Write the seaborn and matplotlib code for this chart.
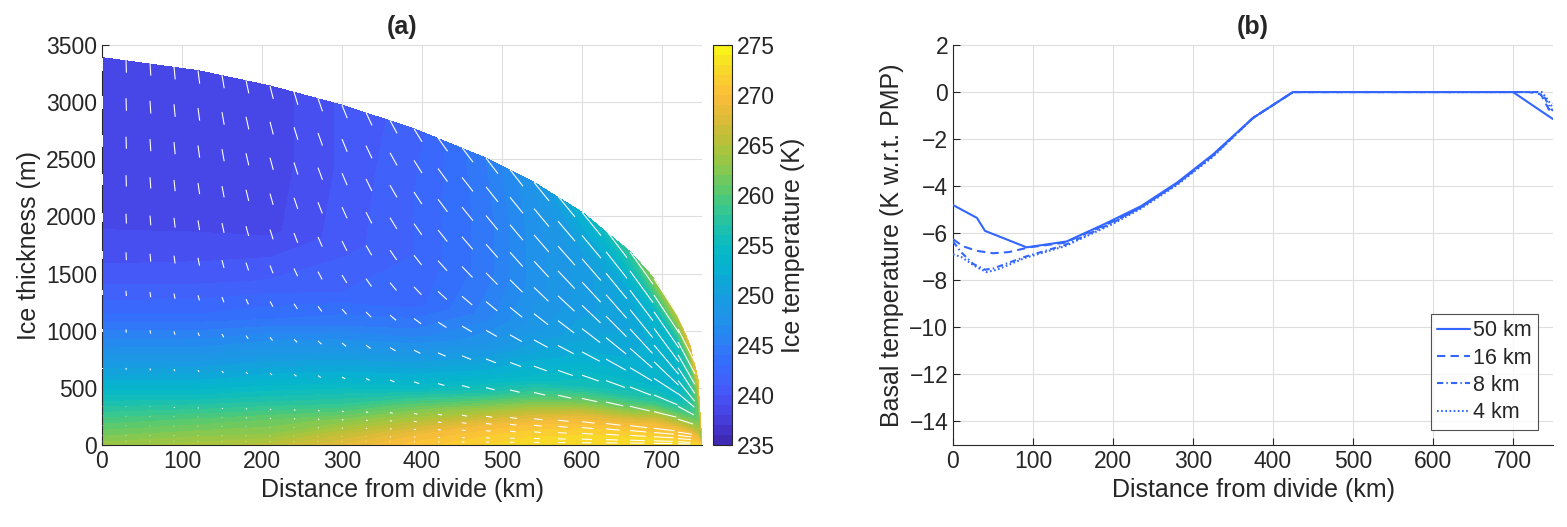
import numpy as np
import pandas as pd
import seaborn as sns
import matplotlib
matplotlib.use("Agg")
import matplotlib.pyplot as plt
from matplotlib.colors import LinearSegmentedColormap

# %% 1 ── Data ───────────────────────────────────────────────────────────────
# ice geometry (surface profile), km / m
grid_x_km = [0, 30, 60, 90, 120, 150, 180, 210, 240, 270, 300, 330, 360, 390,
             420, 450, 480, 510, 540, 570, 600, 630, 660, 690, 720, 735, 745, 750]
ice_thickness_m = [3390, 3372, 3346, 3313, 3276, 3236, 3191, 3142, 3090, 3034,
                   2974, 2910, 2841, 2767, 2688, 2602, 2510, 2409, 2298, 2176,
                   2037, 1879, 1692, 1457, 1127, 870, 576, 0]

# ice temperature (K) on columns x (km) and fractional height above bed
temp_x_km = [0, 120, 210, 300, 390, 480, 540, 600, 660, 690, 720, 735, 745, 750]
temp_sigma = [0.0, 0.03, 0.07, 0.12, 0.18, 0.25, 0.35, 0.45, 0.6, 0.8, 1.0]
T_s000 = [263.5, 264.5, 265.5, 268.0, 270.5, 272.0, 272.5, 273.0, 273.0, 273.0, 273.0, 273.0, 273.0, 273.0]
T_s003 = [261.5, 262.5, 263.0, 266.0, 269.0, 271.0, 272.0, 272.5, 272.5, 272.5, 272.0, 271.5, 271.0, 271.0]
T_s007 = [259.0, 260.0, 261.0, 262.5, 265.5, 269.0, 270.5, 271.0, 271.0, 271.0, 270.5, 270.0, 270.0, 270.0]
T_s012 = [255.5, 256.0, 257.0, 258.0, 261.0, 264.0, 266.5, 268.5, 268.5, 269.5, 269.5, 269.0, 269.0, 269.0]
T_s018 = [251.0, 251.5, 253.0, 254.0, 254.5, 257.0, 260.0, 262.0, 262.5, 265.0, 265.0, 265.5, 266.0, 266.0]
T_s025 = [247.0, 247.5, 249.0, 250.0, 250.5, 252.5, 254.5, 256.0, 257.0, 258.5, 260.0, 262.0, 264.0, 265.0]
T_s035 = [242.5, 243.0, 244.0, 245.0, 245.5, 248.0, 251.0, 253.0, 253.5, 254.0, 255.0, 258.0, 262.0, 264.0]
T_s045 = [240.2, 240.5, 241.2, 242.0, 242.5, 245.5, 248.5, 251.0, 252.0, 253.0, 254.0, 257.0, 261.0, 263.0]
T_s060 = [238.5, 238.6, 238.7, 240.5, 242.0, 244.5, 247.5, 249.5, 251.0, 252.5, 254.0, 257.0, 261.0, 263.0]
T_s080 = [238.3, 238.3, 238.4, 240.2, 242.0, 244.5, 247.5, 249.5, 252.0, 253.5, 256.0, 259.0, 263.0, 265.0]
T_s100 = [238.1, 238.3, 238.4, 240.2, 241.5, 245.0, 248.0, 253.0, 258.0, 263.0, 266.0, 268.0, 269.0, 270.0]

# velocity arrows: columns = grid_x_km[:25], rows at fractional height
arrow_sigma = [1.0, 0.9, 0.8, 0.7, 0.6, 0.5, 0.4, 0.3, 0.2, 0.1, 0.075, 0.05, 0.025, 0.01]
u_shape = [1.0, 1.0, 0.99, 0.97, 0.95, 0.92, 0.87, 0.78, 0.62, 0.35, 0.27, 0.18, 0.09, 0.04]
w_shape = [1.0, 0.97, 0.93, 0.86, 0.75, 0.6, 0.4, 0.25, 0.14, 0.06, 0.045, 0.03, 0.015, 0.005]
u_deform_km = [0, 0.5, 1.0, 1.5, 2.1, 2.75, 3.5, 4.1, 4.9, 5.6, 6.5, 7.5, 8.4,
               9.1, 10.4, 11.25, 11.25, 11.25, 12.5, 12.5, 12.5, 12.5, 11.25, 8.75, 6.25]
u_slide_km = [0, 0, 0, 0, 0, 0, 0, 0, 0, 0, 0, 0, 0.4,
              0.9, 1.5, 2.5, 3.75, 5.0, 6.25, 8.75, 11.25, 13.75, 17.5, 22.5, 15.0]
w_surface_m = [114, 114, 114, 114, 114, 114, 114, 114, 114, 114, 114, 114, 114,
               114, 118, 127, 136, 145, 162, 180, 205, 240, 285, 340, 300]

# basal temperature (K w.r.t. PMP) for each resolution
res_labels = ["50 km", "16 km", "8 km", "4 km"]
x_50km = [0, 30, 40, 55, 92, 142, 190, 235, 280, 325, 375, 425, 700, 750]
y_50km = [-4.8, -5.35, -5.9, -6.1, -6.6, -6.35, -5.6, -4.85, -3.85, -2.65, -1.1, 0.0, 0.0, -1.15]
x_16km = [0, 12, 30, 50, 70, 95, 140, 200, 235, 280, 325, 375, 425, 720, 735, 745, 750]
y_16km = [-6.25, -6.55, -6.75, -6.85, -6.8, -6.6, -6.4, -5.5, -4.9, -3.9, -2.7, -1.1, 0.0, 0.0, -0.1, -0.75, -0.5]
x_8km = [0, 10, 25, 40, 50, 90, 140, 200, 235, 280, 325, 375, 425, 730, 740, 746, 750]
y_8km = [-6.35, -6.8, -7.3, -7.55, -7.5, -7.0, -6.5, -5.55, -4.9, -3.9, -2.7, -1.1, 0.0, 0.0, -0.25, -0.65, -0.8]
x_4km = [0, 10, 30, 42, 55, 90, 140, 200, 235, 280, 325, 375, 425, 736, 744, 750]
y_4km = [-6.9, -7.0, -7.45, -7.65, -7.55, -7.05, -6.55, -5.6, -4.95, -3.95, -2.75, -1.1, 0.0, 0.0, -0.35, -0.7]

# %% 2 ── Prepare arrays ─────────────────────────────────────────────────────
thickness = dict(zip(grid_x_km, ice_thickness_m))
H_temp = np.array([thickness[x] for x in temp_x_km], dtype=float)
TX = np.tile(np.array(temp_x_km, dtype=float), (len(temp_sigma), 1))
TY = np.array(temp_sigma)[:, None] * H_temp[None, :]
TZ = np.vstack([T_s000, T_s003, T_s007, T_s012, T_s018, T_s025,
                T_s035, T_s045, T_s060, T_s080, T_s100])

arrow_x = np.array(grid_x_km[:25], dtype=float)
H_arrow = np.array(ice_thickness_m[:25], dtype=float)
AX = np.tile(arrow_x, (len(arrow_sigma), 1))
AY = np.array(arrow_sigma)[:, None] * H_arrow[None, :]
AU = (np.array(u_shape)[:, None] * np.array(u_deform_km)[None, :]
      + np.array(u_slide_km)[None, :])
AW = -np.array(w_shape)[:, None] * np.array(w_surface_m)[None, :]

basal = pd.concat([
    pd.DataFrame({"dist": x_50km, "temp": y_50km, "res": "50 km"}),
    pd.DataFrame({"dist": x_16km, "temp": y_16km, "res": "16 km"}),
    pd.DataFrame({"dist": x_8km, "temp": y_8km, "res": "8 km"}),
    pd.DataFrame({"dist": x_4km, "temp": y_4km, "res": "4 km"}),
], ignore_index=True)

# parula-like colormap
parula = LinearSegmentedColormap.from_list("parula", [
    (0.000, (0.242, 0.150, 0.660)),
    (0.040, (0.265, 0.200, 0.800)),
    (0.075, (0.275, 0.255, 0.885)),
    (0.110, (0.280, 0.310, 0.945)),
    (0.150, (0.265, 0.370, 0.985)),
    (0.200, (0.215, 0.420, 0.990)),
    (0.250, (0.175, 0.490, 0.965)),
    (0.300, (0.135, 0.560, 0.925)),
    (0.375, (0.090, 0.620, 0.880)),
    (0.450, (0.020, 0.700, 0.810)),
    (0.500, (0.040, 0.735, 0.760)),
    (0.575, (0.180, 0.775, 0.600)),
    (0.625, (0.320, 0.790, 0.460)),
    (0.700, (0.560, 0.790, 0.290)),
    (0.750, (0.700, 0.760, 0.220)),
    (0.825, (0.880, 0.730, 0.220)),
    (0.875, (0.990, 0.745, 0.230)),
    (0.950, (0.970, 0.860, 0.150)),
    (1.000, (0.977, 0.984, 0.081)),
])

# %% 3 ── Plot ───────────────────────────────────────────────────────────────
sns.set_theme(style="ticks")
plt.rcParams["font.family"] = ["Liberation Sans", "DejaVu Sans"]
plt.rcParams.update({
    "axes.edgecolor": "0.15", "axes.labelcolor": "0.15", "text.color": "0.15",
    "xtick.color": "0.15", "ytick.color": "0.15",
    "xtick.direction": "in", "ytick.direction": "in",
    "axes.linewidth": 0.8,
})

W, H = 1567, 527
fig = plt.figure(figsize=(W / 100, H / 100), dpi=100)
ax1 = fig.add_axes([102 / W, 82 / H, 600 / W, 400 / H])
cax = fig.add_axes([713 / W, 82 / H, 19 / W, 400 / H])
ax2 = fig.add_axes([953 / W, 82 / H, 600 / W, 400 / H])

TICK = 16.5
LAB = 18

# (a) temperature field with flow directions
cf = ax1.contourf(TX, TY, TZ, levels=np.arange(235, 276, 1), cmap=parula,
                  vmin=235, vmax=275, zorder=2)
ax1.quiver(AX, AY, AU, AW, angles="xy", scale_units="xy", scale=1,
           pivot="tail", color="white", width=0.0018, headwidth=0,
           headlength=0, headaxislength=0, minlength=0.8, zorder=3)
ax1.set_xlim(0, 750)
ax1.set_ylim(0, 3500)
ax1.set_xticks(range(0, 701, 100))
ax1.set_yticks(range(0, 3501, 500))
ax1.set_xlabel("Distance from divide (km)", fontsize=LAB)
ax1.set_ylabel("Ice thickness (m)", fontsize=LAB)
ax1.set_title("(a)", fontsize=LAB, fontweight="bold", pad=8)

cb = fig.colorbar(cf, cax=cax, ticks=range(235, 276, 5))
cb.set_label("Ice temperature (K)", fontsize=LAB)
cb.outline.set_linewidth(0.8)
cb.ax.tick_params(direction="in", length=4, width=0.8, labelsize=TICK)

# (b) basal temperature
sns.lineplot(data=basal, x="dist", y="temp", style="res", style_order=res_labels,
             dashes={"50 km": "", "16 km": (4, 2.5), "8 km": (3, 1.5, 0.7, 1.5),
                     "4 km": (0.8, 1.2)},
             color=(0.2, 0.4, 1.0), linewidth=1.5, sort=False, estimator=None,
             ax=ax2, zorder=3)
ax2.set_xlim(0, 750)
ax2.set_ylim(-15, 2)
ax2.set_xticks(range(0, 701, 100))
ax2.set_yticks(range(-14, 3, 2))
ax2.set_xlabel("Distance from divide (km)", fontsize=LAB)
ax2.set_ylabel("Basal temperature (K w.r.t. PMP)", fontsize=LAB)
ax2.set_title("(b)", fontsize=LAB, fontweight="bold", pad=8)
handles, labels = ax2.get_legend_handles_labels()
leg = ax2.legend(handles, labels, loc="lower right", fontsize=15.5,
                 frameon=True, fancybox=False, edgecolor="0.15",
                 handlelength=1.5, handletextpad=0.15, labelspacing=0.3,
                 borderpad=0.3, borderaxespad=0.7)
leg.get_frame().set_linewidth(0.8)

for ax in (ax1, ax2):
    sns.despine(ax=ax)
    ax.grid(True, color="0.87", linewidth=0.8, zorder=0)
    ax.set_axisbelow(True)
    ax.tick_params(labelsize=TICK, length=5, width=0.8)

fig.savefig("out.png", dpi=100)
